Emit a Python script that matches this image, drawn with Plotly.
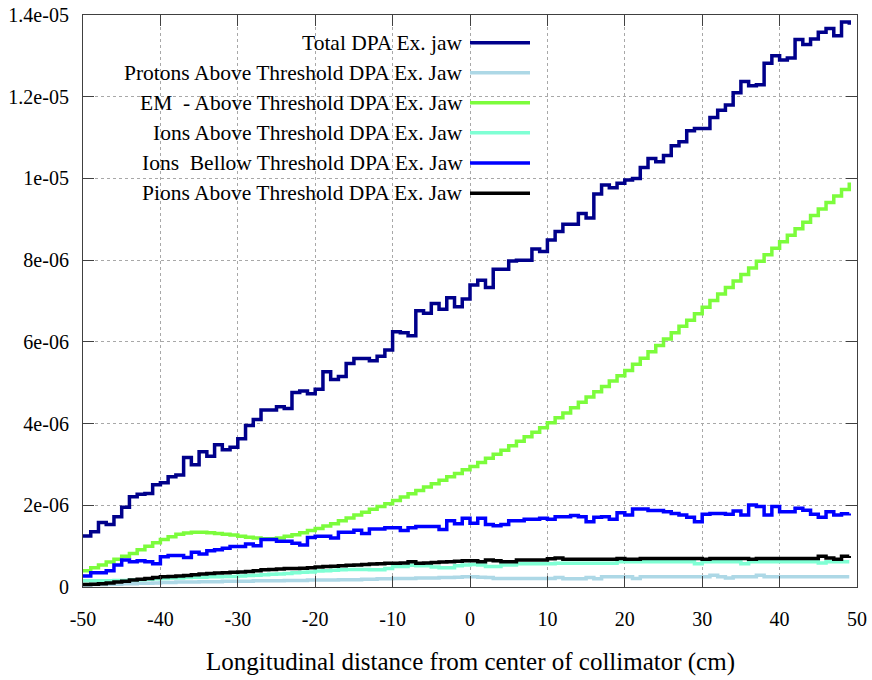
import plotly.graph_objects as go

# bin positions (cm), 1 cm bins from -50 to 49
x_cm = list(range(-50, 50))

# values in units of 1e-6 DPA
total = [1.25, 1.35, 1.58, 1.53, 1.72, 1.95, 2.21, 2.27, 2.29, 2.50,
         2.55, 2.70, 2.74, 3.17, 2.99, 3.31, 3.20, 3.48, 3.36, 3.42,
         3.63, 3.95, 4.10, 4.33, 4.33, 4.41, 4.37, 4.76, 4.80, 4.73,
         4.84, 5.27, 5.08, 5.15, 5.47, 5.59, 5.59, 5.54, 5.65, 5.80,
         6.25, 6.22, 6.15, 6.76, 6.70, 6.94, 6.80, 7.08, 6.86, 7.05,
         7.39, 7.51, 7.33, 7.78, 7.78, 7.98, 8.00, 8.00, 8.27, 8.21,
         8.49, 8.70, 8.88, 8.88, 9.14, 9.03, 9.62, 9.84, 9.77, 9.88,
         9.96, 10.00, 10.27, 10.49, 10.41, 10.56, 10.80, 10.90, 11.17, 11.22,
         11.22, 11.49, 11.67, 11.80, 12.10, 12.37, 12.27, 12.29, 12.82, 13.00,
         12.90, 12.95, 13.40, 13.28, 13.41, 13.58, 13.67, 13.49, 13.83, 13.76]

protons = [0.05, 0.06, 0.06, 0.07, 0.07, 0.08, 0.08, 0.09, 0.09, 0.10,
           0.11, 0.11, 0.12, 0.12, 0.12, 0.13, 0.13, 0.13, 0.14, 0.14,
           0.14, 0.14, 0.15, 0.15, 0.15, 0.15, 0.16, 0.16, 0.16, 0.17,
           0.17, 0.17, 0.17, 0.18, 0.18, 0.18, 0.19, 0.19, 0.20, 0.20,
           0.21, 0.21, 0.21, 0.22, 0.22, 0.22, 0.23, 0.23, 0.24, 0.25,
           0.25, 0.24, 0.23, 0.21, 0.21, 0.21, 0.21, 0.21, 0.21, 0.21,
           0.21, 0.23, 0.20, 0.20, 0.20, 0.23, 0.20, 0.25, 0.25, 0.25,
           0.25, 0.21, 0.25, 0.25, 0.25, 0.25, 0.25, 0.25, 0.25, 0.25,
           0.25, 0.29, 0.25, 0.22, 0.25, 0.25, 0.25, 0.29, 0.25, 0.25,
           0.25, 0.25, 0.25, 0.25, 0.25, 0.25, 0.25, 0.25, 0.25, 0.25]

em = [0.40, 0.47, 0.54, 0.61, 0.68, 0.75, 0.82, 0.91, 1.00, 1.08,
      1.16, 1.23, 1.29, 1.32, 1.34, 1.34, 1.33, 1.31, 1.29, 1.27,
      1.24, 1.22, 1.20, 1.18, 1.18, 1.20, 1.24, 1.28, 1.33, 1.38,
      1.43, 1.49, 1.55, 1.62, 1.69, 1.76, 1.83, 1.90, 1.97, 2.04,
      2.12, 2.20, 2.28, 2.36, 2.45, 2.53, 2.61, 2.70, 2.78, 2.87,
      2.95, 3.05, 3.15, 3.25, 3.35, 3.46, 3.57, 3.68, 3.79, 3.90,
      4.02, 4.14, 4.26, 4.39, 4.52, 4.65, 4.78, 4.91, 5.04, 5.17,
      5.30, 5.45, 5.60, 5.76, 5.91, 6.07, 6.22, 6.38, 6.53, 6.69,
      6.85, 7.01, 7.17, 7.33, 7.49, 7.65, 7.81, 7.97, 8.13, 8.29,
      8.45, 8.61, 8.77, 8.93, 9.09, 9.25, 9.41, 9.57, 9.73, 9.90]

ions_above = [0.15, 0.15, 0.15, 0.15, 0.16, 0.16, 0.17, 0.18, 0.19, 0.20,
              0.21, 0.22, 0.22, 0.23, 0.24, 0.24, 0.25, 0.25, 0.26, 0.26,
              0.27, 0.28, 0.29, 0.30, 0.31, 0.32, 0.33, 0.35, 0.36, 0.37,
              0.39, 0.40, 0.41, 0.42, 0.43, 0.43, 0.43, 0.42, 0.42, 0.45,
              0.50, 0.50, 0.53, 0.52, 0.52, 0.49, 0.47, 0.47, 0.52, 0.54,
              0.55, 0.54, 0.50, 0.50, 0.54, 0.54, 0.57, 0.57, 0.57, 0.57,
              0.57, 0.58, 0.58, 0.58, 0.58, 0.58, 0.58, 0.58, 0.58, 0.62,
              0.62, 0.62, 0.62, 0.62, 0.62, 0.62, 0.62, 0.62, 0.62, 0.57,
              0.62, 0.62, 0.62, 0.62, 0.62, 0.57, 0.62, 0.62, 0.62, 0.62,
              0.62, 0.62, 0.62, 0.62, 0.62, 0.59, 0.62, 0.62, 0.62, 0.62]

ions_below = [0.27, 0.35, 0.35, 0.40, 0.54, 0.66, 0.62, 0.64, 0.62, 0.57,
              0.74, 0.77, 0.77, 0.72, 0.85, 0.81, 0.89, 0.91, 0.95, 0.99,
              0.99, 1.05, 1.01, 1.16, 1.16, 1.12, 1.12, 1.07, 1.03, 1.21,
              1.24, 1.24, 1.20, 1.34, 1.34, 1.39, 1.31, 1.42, 1.42, 1.45,
              1.45, 1.38, 1.45, 1.48, 1.48, 1.48, 1.41, 1.62, 1.55, 1.68,
              1.56, 1.68, 1.53, 1.50, 1.53, 1.62, 1.62, 1.66, 1.66, 1.68,
              1.66, 1.72, 1.72, 1.75, 1.72, 1.60, 1.71, 1.72, 1.66, 1.82,
              1.76, 1.91, 1.91, 1.87, 1.87, 1.84, 1.80, 1.76, 1.71, 1.60,
              1.78, 1.80, 1.80, 1.78, 1.86, 1.76, 2.01, 1.97, 1.76, 1.97,
              1.84, 1.84, 1.93, 1.88, 1.78, 1.71, 1.84, 1.76, 1.79, 1.80]

pions = [0.06, 0.07, 0.08, 0.10, 0.12, 0.14, 0.17, 0.19, 0.21, 0.23,
         0.25, 0.26, 0.27, 0.28, 0.30, 0.32, 0.33, 0.34, 0.35, 0.36,
         0.37, 0.38, 0.40, 0.42, 0.43, 0.44, 0.45, 0.45, 0.46, 0.47,
         0.49, 0.50, 0.51, 0.52, 0.53, 0.54, 0.55, 0.56, 0.57, 0.58,
         0.58, 0.59, 0.62, 0.58, 0.59, 0.60, 0.61, 0.62, 0.63, 0.64,
         0.64, 0.62, 0.66, 0.64, 0.62, 0.62, 0.66, 0.66, 0.66, 0.66,
         0.69, 0.71, 0.68, 0.68, 0.68, 0.68, 0.68, 0.68, 0.68, 0.70,
         0.68, 0.68, 0.70, 0.70, 0.70, 0.70, 0.70, 0.70, 0.70, 0.70,
         0.68, 0.70, 0.70, 0.70, 0.70, 0.70, 0.68, 0.70, 0.70, 0.70,
         0.70, 0.70, 0.70, 0.70, 0.70, 0.75, 0.71, 0.68, 0.75, 0.76]

SCALE = 1e-6

series_names = ["Total DPA Ex. jaw",
                "Protons Above Threshold DPA Ex. Jaw",
                "EM\u00a0 - Above Threshold DPA Ex. Jaw",
                "Ions Above Threshold DPA Ex. Jaw",
                "Ions\u00a0 Bellow Threshold DPA Ex. Jaw",
                "Pions Above Threshold DPA Ex. Jaw"]
series_values = [total, protons, em, ions_above, ions_below, pions]
series_colors = ["#00008b", "#add8e6", "#7cfc3c", "#7fffd4", "#0000ff", "#000000"]

x_ticks = [-50, -40, -30, -20, -10, 0, 10, 20, 30, 40, 50]
y_tickvals = [0, 2e-6, 4e-6, 6e-6, 8e-6, 1e-5, 1.2e-5, 1.4e-5]
y_ticktext = ["0", "2e-06", "4e-06", "6e-06", "8e-06", "1e-05", "1.2e-05", "1.4e-05"]
x_title = "Longitudinal distance from center of collimator (cm)"

FONT = "Liberation Serif, Times New Roman, serif"

fig = go.Figure()
for name, vals, col in zip(series_names, series_values, series_colors):
    fig.add_trace(go.Scatter(
        x=x_cm, y=[v * SCALE for v in vals], mode="lines", name=name,
        line=dict(color=col, width=3.5, shape="hv"),
        showlegend=False, hoverinfo="skip"))

# gnuplot-style key: right-aligned text with sample line to its right
L, R, T, B = 83, 857, 15, 587
W, H = R - L, B - T
row_py = [42.7, 72.7, 102.7, 132.7, 163.0, 193.3]
for name, col, py in zip(series_names, series_colors, row_py):
    yp = (B - py) / H
    fig.add_annotation(x=(465 - L) / W, y=yp, xref="paper", yref="paper",
                       text=name, showarrow=False, xanchor="right", yanchor="middle",
                       font=dict(family=FONT, size=21.5, color="black"))
    fig.add_shape(type="line", xref="paper", yref="paper",
                  x0=(470 - L) / W, x1=(530 - L) / W, y0=yp, y1=yp,
                  line=dict(color=col, width=3.5))

# x-axis title
fig.add_annotation(x=(470 - L) / W, y=(B - 662) / H, xref="paper", yref="paper",
                   text=x_title, showarrow=False, xanchor="center", yanchor="middle",
                   font=dict(family=FONT, size=25, color="black"))

axis_common = dict(
    showline=True, linecolor="#404040", linewidth=1.2, mirror="ticks",
    ticks="inside", ticklen=11, tickcolor="#404040", tickwidth=1.2,
    showgrid=True, gridcolor="#a8a8a8", griddash="dot", gridwidth=1,
    zeroline=False, automargin=False,
    tickfont=dict(family=FONT, size=20, color="black"),
)

fig.update_layout(
    width=872, height=680,
    margin=dict(l=L, r=872 - R, t=T, b=680 - B, pad=0),
    paper_bgcolor="white", plot_bgcolor="white",
    font=dict(family=FONT, size=20, color="black"),
    xaxis=dict(range=[-50, 50], tickvals=x_ticks, ticktext=[str(v) for v in x_ticks],
               ticklabelstandoff=14, **axis_common),
    yaxis=dict(range=[0, 1.4e-5], tickvals=y_tickvals, ticktext=y_ticktext,
               ticklabelstandoff=9, **axis_common),
    showlegend=False,
)

fig.write_html("out.html", config={"displayModeBar": False},
               post_script="document.body.style.margin='0';document.body.style.overflow='hidden';")
